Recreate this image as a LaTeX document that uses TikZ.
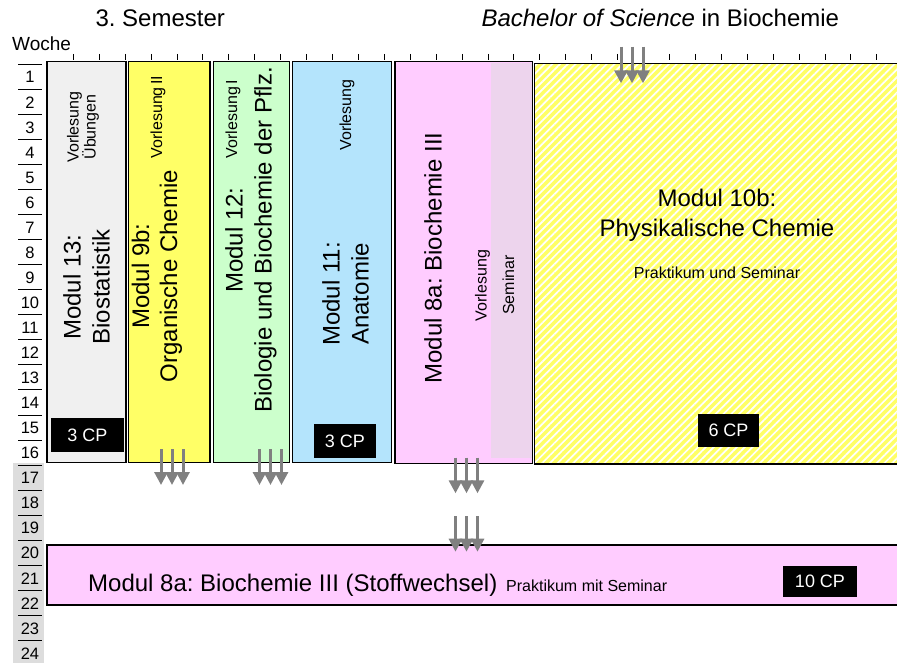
\documentclass[tikz,border=0pt]{standalone}
\usepackage{fontspec}
\setmainfont{Liberation Sans}
\usetikzlibrary{arrows.meta,patterns.meta}
\definecolor{cgray}{HTML}{F0F0F0}
\definecolor{cyel}{HTML}{FFFF66}
\definecolor{cgreen}{HTML}{CCFFCC}
\definecolor{cblue}{HTML}{B4E4FC}
\definecolor{cpink}{HTML}{FFCCFF}
\definecolor{csem}{HTML}{EDD4ED}
\definecolor{crow}{HTML}{DDDDDD}
\definecolor{carrow}{HTML}{808080}
\frenchspacing
\begin{document}
\begin{tikzpicture}[x=1pt,y=-1pt,
  box/.style={draw=black, line width=1.5pt},
  cp/.style={fill=black, text=white, font=\fontsize{18}{20}\selectfont, inner sep=0pt},
  big/.style={font=\fontsize{24}{29}\selectfont, align=center},
  small/.style={font=\fontsize{16}{17}\selectfont, align=center},
  head/.style={font=\fontsize{24}{28}\selectfont, anchor=west},
  flow/.style={draw=carrow, line width=3pt, -{Triangle[width=13pt,length=13pt]}},
  rownum/.style={font=\fontsize{16.5}{17}\selectfont},
  tickmark/.style={line width=0.9pt}]
\useasboundingbox (0,0) rectangle (897,663);
\clip (0,0) rectangle (897,663);

% header
\node[head] (sem) at (92,18) {3. Semester};
\node[head] (bsc) at (478,18) {\textit{Bachelor of Science} in Biochemie};
\node[font=\fontsize{19}{20}\selectfont, anchor=west, inner sep=0pt] (woche) at (12,44) {Woche};

% top ticks
\foreach \k in {0,...,31} {
  \pgfmathsetmacro{\tx}{73.3+\k*25.92}
  \draw[tickmark] (\tx,54) -- (\tx,60);
}

% week rows
\fill[crow] (13,462.7) rectangle (44,663);
\foreach \k in {1,...,24} {
  \pgfmathsetmacro{\ty}{64.3+(\k-1)*25.05}
  \draw[line width=1pt] (18,\ty) -- (42,\ty);
  \node[rownum] (w\k) at (30,\ty+13) {\k};
}

% Modul 13
\draw[box, fill=cgray] (47,61.7) rectangle (126,462.7);
\node[big, rotate=90] (m13) at (86.5,287) {Modul 13:\\Biostatistik};
\node[small, rotate=90] (m13v) at (83,127) {Vorlesung\\Übungen};
\node[cp, minimum width=73pt, minimum height=34pt] (cp13) at (87.5,435) {3 CP};

% Modul 9b
\draw[box, fill=cyel] (128.5,61.7) rectangle (210,462.7);
\node[big, rotate=90, font=\fontsize{24}{28}\selectfont] (m9b) at (157,276) {Modul 9b:\\Organische Chemie};
\node[small, rotate=90] (m9bv) at (158,117) {Vorlesung\,II};

% Modul 12
\draw[box, fill=cgreen] (213.5,61.7) rectangle (289.5,462.7);
\node[big, rotate=90] (m12) at (251,240) {Modul 12:\\Biologie und Biochemie der Pflz.};
\node[small, rotate=90] (m12v) at (233,119) {Vorlesung\,I};

% Modul 11
\draw[box, fill=cblue] (292.5,61.7) rectangle (391.5,462.7);
\node[big, rotate=90] (m11) at (345.5,294) {Modul 11:\\Anatomie};
\node[small, rotate=90] (m11v) at (347,115) {Vorlesung};
\node[cp, minimum width=62pt, minimum height=34pt] (cp11) at (345,441) {3 CP};

% Modul 8a
\draw[box, fill=cpink] (395,61.7) rectangle (532.5,463.3);
\fill[csem] (491,63) rectangle (531.5,458);
\node[big, rotate=90] (m8a) at (433,258) {Modul 8a: Biochemie III};
\node[small, rotate=90] (m8av) at (482.5,285.5) {Vorlesung};
\node[small, rotate=90] (m8as) at (508.5,285) {Seminar};

% Modul 10b
\fill[cyel] (534.5,63.3) rectangle (905,464);
\fill[pattern={Lines[angle=45,distance=5.5pt,line width=1.7pt]}, pattern color=white] (534.5,63.3) rectangle (905,464);
\draw[box] (534.5,63.3) rectangle (905,464);
\node[big, font=\fontsize{24}{30}\selectfont] (m10b) at (717,215) {Modul 10b:\\Physikalische Chemie};
\node[small] (m10bp) at (717,273) {Praktikum und Seminar};
\node[cp, minimum width=61pt, minimum height=33pt] (cp10b) at (728.5,430.5) {6 CP};

% bottom Modul 8a
\draw[box, fill=cpink] (47,545) rectangle (905,605);
\node[font=\fontsize{24}{28}\selectfont, anchor=base west, inner sep=0pt] (m8ab) at (88,591) {Modul 8a: Biochemie III (Stoffwechsel)};
\node[font=\fontsize{16}{17}\selectfont, anchor=base west, inner sep=0pt] (m8abp) at (506,591) {Praktikum mit Seminar};
\node[cp, minimum width=74pt, minimum height=31pt] (cp8a) at (820,581) {10 CP};

% triple arrows
\foreach \n/\cx/\ya/\yb in {a/632/46.7/83.3, b/172/449/485, c/270.5/449/485, d/466.5/457.7/493.3, e/466.5/516/551.7} {
  \foreach \i in {0,1,2} {
    \pgfmathsetmacro{\ax}{\cx+(\i-1)*11}
    \coordinate (\n s\i) at (\ax,\ya);
    \coordinate (\n e\i) at (\ax,\yb);
    \draw[flow] (\n s\i) -- (\n e\i);
  }
}
\end{tikzpicture}
\end{document}
